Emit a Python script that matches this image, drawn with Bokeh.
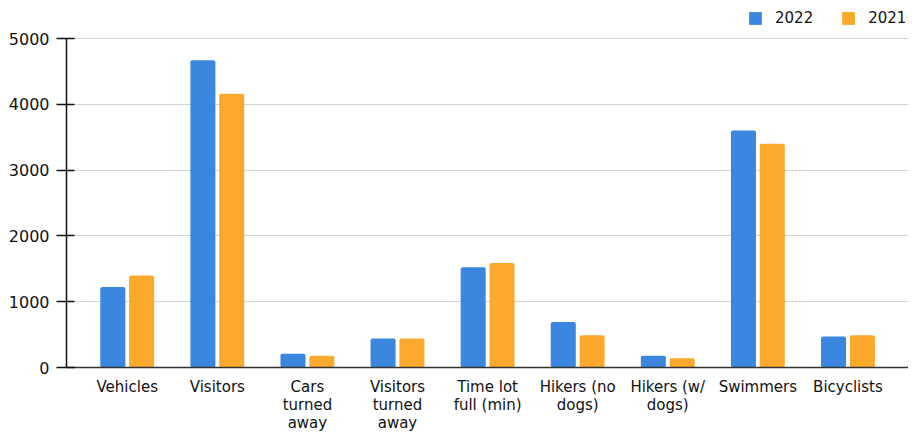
from bokeh.plotting import figure
from bokeh.models import ColumnDataSource, Range1d, Legend, LegendItem, FixedTicker
from bokeh.embed import file_html
from bokeh.resources import INLINE

categories = ["Vehicles", "Visitors", "Cars\nturned\naway", "Visitors\nturned\naway",
              "Time lot\nfull (min)", "Hikers (no\ndogs)", "Hikers (w/\ndogs)",
              "Swimmers", "Bicyclists"]
values_2022 = [1225, 4670, 210, 440, 1525, 690, 180, 3600, 470]
values_2021 = [1400, 4160, 180, 440, 1590, 490, 140, 3400, 490]
y_ticks = [0, 1000, 2000, 3000, 4000, 5000]

BLUE = "#3b87e0"
ORANGE = "#fba92c"
FONT = "DejaVu Sans"

xs = list(range(len(categories)))
src = ColumnDataSource(dict(
    x22=[x - 0.16 for x in xs], x21=[x + 0.16 for x in xs],
    v22=values_2022, v21=values_2021))

# frame extends to the top of the canvas so the legend can sit inside it
p = figure(frame_width=842, frame_height=367, output_backend="svg", toolbar_location=None,
           x_range=Range1d(-0.674, 8.672), y_range=Range1d(0, 5000 * 367 / 329),
           min_border_left=66, min_border_right=0, min_border_top=0,
           min_border_bottom=20)
p.outline_line_color = None

r22 = p.vbar(x="x22", top="v22", width=0.278, source=src, fill_color=BLUE,
             line_color=None, border_radius=2)
r21 = p.vbar(x="x21", top="v21", width=0.278, source=src, fill_color=ORANGE,
             line_color=None, border_radius=2)

# x axis
p.xaxis.ticker = FixedTicker(ticks=xs)
p.xaxis.major_label_overrides = {i: c for i, c in enumerate(categories)}
p.xaxis.major_tick_line_color = None
p.xaxis.minor_tick_line_color = None
p.xaxis.axis_line_color = "#333333"
p.xaxis.axis_line_width = 1.5
p.xaxis.major_label_text_font = FONT
p.xaxis.major_label_text_font_size = "15px"
p.xaxis.major_label_text_line_height = 1.0
p.xaxis.major_label_text_color = "#111111"
p.xaxis.major_label_standoff = 4
p.xgrid.grid_line_color = None

# y axis
p.yaxis.ticker = FixedTicker(ticks=y_ticks)
p.yaxis.bounds = (0, 5000)
p.yaxis.minor_tick_line_color = None
p.yaxis.axis_line_color = "#111111"
p.yaxis.axis_line_width = 1.5
p.yaxis.major_tick_line_color = "#111111"
p.yaxis.major_tick_line_width = 1.5
p.yaxis.major_tick_out = 10
p.yaxis.major_tick_in = 8
p.yaxis.major_label_text_font = FONT
p.yaxis.major_label_text_font_size = "16px"
p.yaxis.major_label_text_color = "#111111"
p.yaxis.major_label_standoff = 7
p.ygrid.grid_line_color = "#d4d4d4"
p.ygrid.grid_line_width = 1

legend = Legend(items=[LegendItem(label="2022", renderers=[r22]),
                       LegendItem(label="2021", renderers=[r21])],
                orientation="horizontal", location=(681, 340),
                glyph_width=16, glyph_height=16, label_standoff=12, spacing=27,
                padding=0, margin=0, border_line_color=None,
                background_fill_alpha=0,
                label_text_font=FONT, label_text_font_size="15px",
                label_text_color="#111111")
p.add_layout(legend, "center")

open("out.html", "w").write(file_html(p, INLINE))
